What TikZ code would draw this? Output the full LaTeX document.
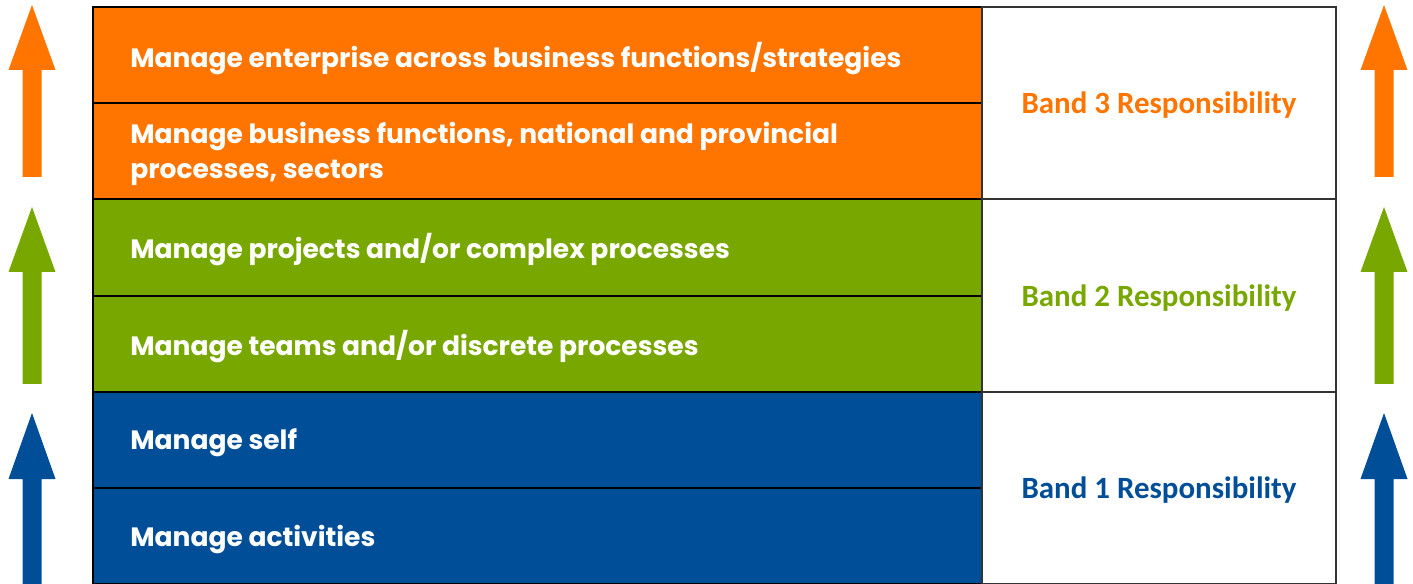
\documentclass[tikz,border=0pt]{standalone}
\usepackage{fontspec}
\setmainfont{Poppins}
\newfontfamily\bandfont{Carlito}
\definecolor{borange}{RGB}{255,117,0}
\definecolor{bgreen}{RGB}{120,168,0}
\definecolor{bblue}{RGB}{0,78,152}
\begin{document}
\begin{tikzpicture}[x=0.75pt,y=-0.75pt,
  cell/.style={draw=black,line width=1.5pt,minimum width=889*0.75pt,minimum height=96.2*0.75pt,anchor=north west,inner sep=0pt},
  bandcell/.style={draw=black!80,line width=1.5pt,fill=white,minimum width=354*0.75pt,minimum height=192.4*0.75pt,anchor=north west,inner sep=0pt},
  rowtext/.style={anchor=west,text=white,font=\bfseries\fontsize{19.9}{26.5}\selectfont,align=left,inner sep=0pt},
  bandtext/.style={font=\bandfont\bfseries\fontsize{23.2}{28}\selectfont}]
\useasboundingbox (0,0) rectangle (1413,584);
% colored rows
\node[cell,fill=borange] (r1) at (92,6) {};
\node[cell,fill=borange] (r2) at (92,102.2) {};
\node[cell,fill=bgreen] (r3) at (92,198.4) {};
\node[cell,fill=bgreen] (r4) at (92,294.6) {};
\node[cell,fill=bblue] (r5) at (92,390.8) {};
\node[cell,fill=bblue] (r6) at (92,487) {};
% band cells
\node[bandcell] (b3) at (981,6) {};
\node[bandcell] (b2) at (981,198.4) {};
\node[bandcell] (b1) at (981,390.8) {};
% row texts
\node[rowtext] (t1) at (130,58.5) {Manage enterprise across business functions/strategies};
\node[rowtext] (t2) at (130,154) {Manage business functions, national and provincial\\processes, sectors};
\node[rowtext] (t3) at (130,250) {Manage projects and/or complex processes};
\node[rowtext] (t4) at (130,347) {Manage teams and/or discrete processes};
\node[rowtext] (t5) at (130,443) {Manage self};
\node[rowtext] (t6) at (130,540) {Manage activities};
% band texts
\node[bandtext,text=borange] (l3) at ([yshift=-1.5pt]b3.center) {Band 3 Responsibility};
\node[bandtext,text=bgreen] (l2) at ([yshift=-1.5pt]b2.center) {Band 2 Responsibility};
\node[bandtext,text=bblue] (l1) at ([yshift=-1.5pt]b1.center) {Band 1 Responsibility};
% arrows
\foreach \cx in {32,1384}{
  \fill[borange] (\cx,5) -- (\cx+23.5,70) -- (\cx+9.5,70) -- (\cx+9.5,177) -- (\cx-9.5,177) -- (\cx-9.5,70) -- (\cx-23.5,70) -- cycle;
  \fill[bgreen] (\cx,207) -- (\cx+23.5,272) -- (\cx+9.5,272) -- (\cx+9.5,384) -- (\cx-9.5,384) -- (\cx-9.5,272) -- (\cx-23.5,272) -- cycle;
  \fill[bblue] (\cx,413) -- (\cx+23.5,479) -- (\cx+9.5,479) -- (\cx+9.5,584) -- (\cx-9.5,584) -- (\cx-9.5,479) -- (\cx-23.5,479) -- cycle;
}
\end{tikzpicture}
\end{document}
